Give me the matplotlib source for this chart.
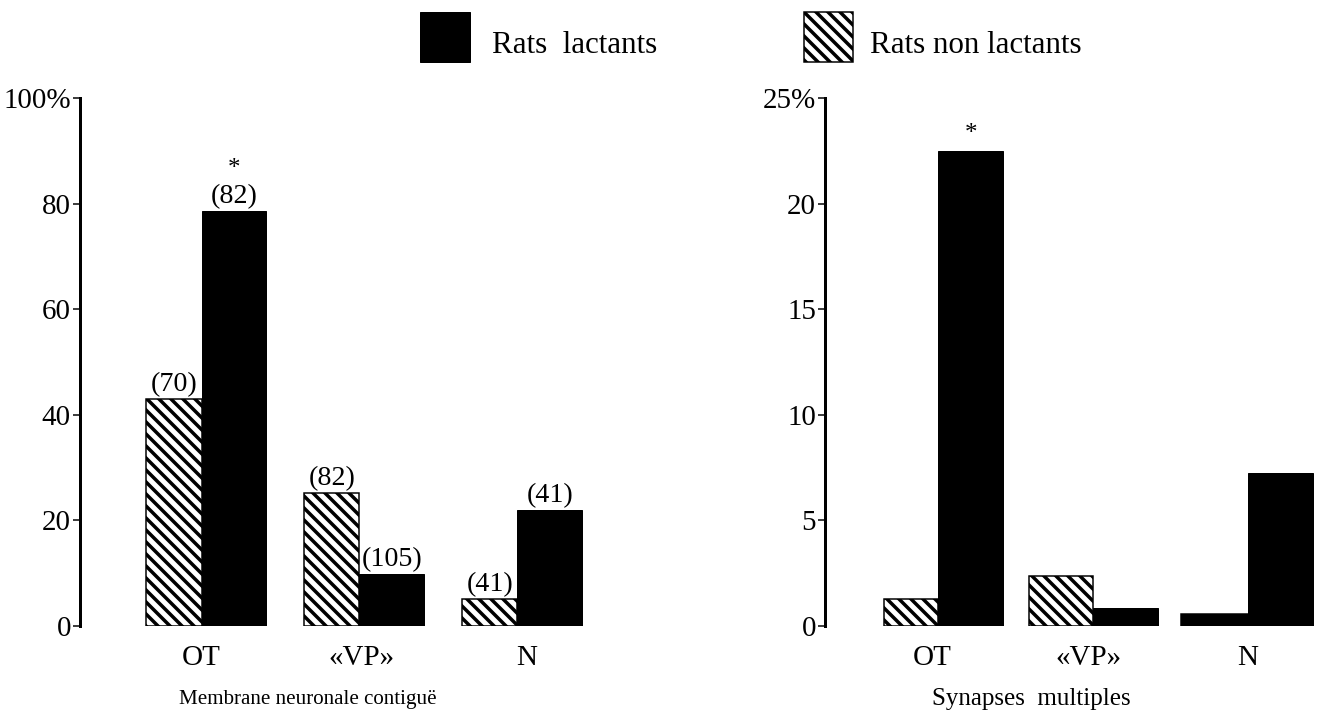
import numpy as np
import matplotlib
matplotlib.use('Agg')
import matplotlib.pyplot as plt
from matplotlib.patches import Rectangle

plt.rcParams['font.family'] = ['Liberation Serif', 'DejaVu Serif']
plt.rcParams['hatch.linewidth'] = 3.5

categories = ['OT', '«VP»', 'N']
series_names = ['Rats  lactants', 'Rats non lactants']

# Membrane neuronale contiguë (%)
memb_non_lact = [43.0, 25.1, 5.1]
memb_lact = [78.6, 9.9, 22.0]
memb_n_non = ['(70)', '(82)', '(41)']
memb_n_lact = ['(82)', '(105)', '(41)']

# Synapses multiples (%)
syn_non_lact = [1.28, 2.37, 0.55]
syn_lact = [22.5, 0.85, 7.24]

DPI = 72
W, H = 1319, 711
HATCH = '\\\\'
fig = plt.figure(figsize=(W / DPI, H / DPI), dpi=DPI)

y0 = (H - 626) / H
h = (626 - 98) / H
ax1 = fig.add_axes([80 / W, y0, (612 - 80) / W, h])
ax2 = fig.add_axes([825 / W, y0, (W - 825) / W, h])

x = np.arange(len(categories))
hatch_kw = dict(color='white', edgecolor='black', hatch=HATCH, linewidth=1.5, align='edge')
solid_kw = dict(color='black', edgecolor='black', linewidth=1, align='edge')

# left panel
b_non = ax1.bar(x, memb_non_lact, width=-0.35, **hatch_kw)
b_lact = ax1.bar(x, memb_lact, width=0.41, **solid_kw)
for bars, labels in ((b_non, memb_n_non), (b_lact, memb_n_lact)):
    for bar, lab in zip(bars, labels):
        ax1.annotate(lab, (bar.get_x() + bar.get_width() / 2, bar.get_height()),
                     xytext=(0, 2), textcoords='offset points', ha='center', va='bottom', fontsize=28)
ax1.annotate('*', (b_lact[0].get_x() + b_lact[0].get_width() / 2, b_lact[0].get_height()),
             xytext=(0, 42), textcoords='offset points', ha='center', va='center', fontsize=25)
ax1.set_xlim(-0.77, 2.6)
ax1.set_ylim(0, 100)
ax1.set_yticks([0, 20, 40, 60, 80, 100])
ax1.set_yticklabels(['0', '20', '40', '60', '80', '100%'])
ax1.set_xticks(x + np.array([0, 0.01, 0.06]))

# right panel
s_non = ax2.bar(x, syn_non_lact, width=-np.array([0.35, 0.41, 0.43]), **hatch_kw)
s_non[2].set_facecolor('black')
s_lact = ax2.bar(x, syn_lact, width=0.42, **solid_kw)
ax2.annotate('*', (s_lact[0].get_x() + s_lact[0].get_width() / 2, s_lact[0].get_height()),
             xytext=(0, 17), textcoords='offset points', ha='center', va='center', fontsize=25)
ax2.set_xlim(-0.73, 2.46)
ax2.set_ylim(0, 25)
ax2.set_yticks([0, 5, 10, 15, 20, 25])
ax2.set_yticklabels(['0', '5', '10', '15', '20', '25%'])
ax2.set_xticks(x - np.array([0.04, 0.03, 0]))

for ax in (ax1, ax2):
    for s in ('top', 'right', 'bottom'):
        ax.spines[s].set_visible(False)
    ax.spines['left'].set_linewidth(3)
    ax.tick_params(axis='y', length=7, width=1.5, pad=2, labelsize=29)
    ax.set_xticklabels(categories)
    ax.tick_params(axis='x', length=0, pad=19, labelsize=29)
    ax.set_facecolor('none')

fig.text(308 / W, 1 - 704 / H, 'Membrane neuronale contiguë', ha='center', va='baseline', fontsize=21)
fig.text(1031 / W, 1 - 705 / H, 'Synapses  multiples', ha='center', va='baseline', fontsize=25)

# legend drawn by hand in figure coordinates
fig.add_artist(Rectangle((420 / W, 1 - 62 / H), 50 / W, 50 / H, transform=fig.transFigure,
                         facecolor='black', edgecolor='black'))
fig.add_artist(Rectangle((804 / W, 1 - 62 / H), 49 / W, 50 / H, transform=fig.transFigure,
                         facecolor='white', edgecolor='black', hatch=HATCH, linewidth=1.5))
fig.text(492 / W, 1 - 53 / H, series_names[0], ha='left', va='baseline', fontsize=31)
fig.text(870 / W, 1 - 53 / H, series_names[1], ha='left', va='baseline', fontsize=31)

fig.savefig('out.png', dpi=DPI)
